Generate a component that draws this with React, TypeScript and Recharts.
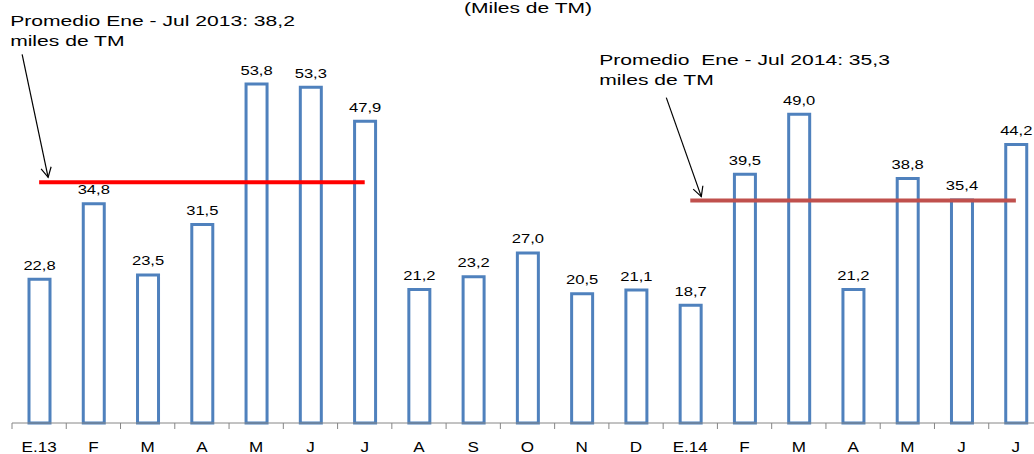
import { Bar, BarChart, LabelList, ReferenceLine, XAxis, YAxis } from "recharts";

const MONTHS = ["E.13", "F", "M", "A", "M", "J", "J", "A", "S", "O", "N", "D", "E.14", "F", "M", "A", "M", "J", "J"];
const VOLUMES = [22.8, 34.8, 23.5, 31.5, 53.8, 53.3, 47.9, 21.2, 23.2, 27.0, 20.5, 21.1, 18.7, 39.5, 49.0, 21.2, 38.8, 35.4, 44.2];
const AVG_2013 = 38.2;
const AVG_2014 = 35.3;
const AVG_2013_TEXT = ["Promedio Ene - Jul 2013: 38,2", "miles de TM"];
const AVG_2014_TEXT = ["Promedio  Ene - Jul 2014: 35,3", "miles de TM"];
const TITLE = "(Miles de TM)";

const CHART_W = 1043;
const CHART_H = 454;
const MARGIN = { top: 45, right: 0, left: 12, bottom: 0 };
const BAND = (CHART_W - MARGIN.left - MARGIN.right) / MONTHS.length;
const FONT = "'Liberation Sans', Arial, sans-serif";
const BAR_BLUE = "#4F81BD";

const rows = MONTHS.map((m, i) => ({ id: `${m}-${i}`, month: m, value: VOLUMES[i] }));
const ids = rows.map((r) => r.id);

const fmt = (v: number) => v.toFixed(1).replace(".", ",");

// text stretched horizontally, the source image was widened
function SText({ x, y, size, sx, anchor = "start", children }: any) {
  return (
    <text
      transform={`translate(${x} ${y}) scale(${sx} 1)`}
      textAnchor={anchor}
      fontSize={size}
      fontFamily={FONT}
      fill="#000"
      style={{ whiteSpace: "pre" }}
    >
      {children}
    </text>
  );
}

function Arrow({ x1, y1, x2, y2 }: { x1: number; y1: number; x2: number; y2: number }) {
  const ang = Math.atan2(y2 - y1, x2 - x1);
  const len = 11;
  const spread = Math.PI / 6.5;
  const a1 = ang + Math.PI - spread;
  const a2 = ang + Math.PI + spread;
  const head = `${x2 + len * Math.cos(a1)},${y2 + len * Math.sin(a1)} ${x2},${y2} ${x2 + len * Math.cos(a2)},${y2 + len * Math.sin(a2)}`;
  return (
    <g stroke="#000" strokeWidth={1.2} fill="none">
      <line x1={x1} y1={y1} x2={x2} y2={y2} />
      <polyline points={head} />
    </g>
  );
}

function annotation(lines: string[], textDx: number, textDy: number, tail: [number, number], tip: [number, number]) {
  return (props: any) => {
    const vb = props.viewBox || {};
    const x = vb.x ?? 0;
    const y = vb.y ?? 0;
    return (
      <g>
        <SText x={x + textDx} y={y + textDy} size={15.5} sx={1.36}>{lines[0]}</SText>
        <SText x={x + textDx} y={y + textDy + 19.5} size={15.5} sx={1.36}>{lines[1]}</SText>
        <Arrow x1={x + tail[0]} y1={y + tail[1]} x2={x + tip[0]} y2={y + tip[1]} />
      </g>
    );
  };
}

function MonthTick(props: any) {
  const { x, y, payload } = props;
  const row = rows.find((r) => r.id === payload.value);
  const left = x - BAND / 2;
  return (
    <g>
      <line x1={left} x2={left} y1={y} y2={y + 6} stroke="#868686" />
      <SText x={x} y={y + 28.5} size={14} sx={1.22} anchor="middle">{row ? row.month : ""}</SText>
    </g>
  );
}

function ValueLabel(props: any) {
  const { x, y, width, value } = props;
  return (
    <SText x={x + width / 2} y={y - 9.5} size={12} sx={1.38} anchor="middle">{fmt(value)}</SText>
  );
}

export default function App() {
  return (
    <div style={{ position: "fixed", left: 0, top: 0, width: 1034, height: 454, overflow: "hidden", background: "#fff" }}>
      <div
        style={{
          position: "absolute",
          left: 528,
          top: 0,
          transform: "translateX(-50%) scaleX(1.5)",
          fontFamily: FONT,
          fontSize: 14,
          lineHeight: "16px",
          whiteSpace: "nowrap",
        }}
      >
        {TITLE}
      </div>
      <BarChart width={CHART_W} height={CHART_H} data={rows} margin={MARGIN} barSize={21}>
        <XAxis
          dataKey="id"
          height={31}
          tickSize={0}
          tickMargin={0}
          interval={0}
          axisLine={{ stroke: "#868686" }}
          tick={<MonthTick />}
        />
        <YAxis hide domain={[0, 60]} />
        <Bar dataKey="value" fill="#FFFFFF" stroke={BAR_BLUE} strokeWidth={3} isAnimationActive={false}>
          <LabelList dataKey="value" content={<ValueLabel />} />
        </Bar>
        <ReferenceLine
          segment={[{ x: ids[0], y: AVG_2013 }, { x: ids[6], y: AVG_2013 }]}
          stroke="#FF0000"
          strokeWidth={4}
          label={annotation(AVG_2013_TEXT, -29, -156, [-17, -128], [9, -5])}
        />
        <ReferenceLine
          segment={[{ x: ids[12], y: AVG_2014 }, { x: ids[18], y: AVG_2014 }]}
          stroke="#C0504D"
          strokeWidth={4}
          label={annotation(AVG_2014_TEXT, -91, -135.6, [-24, -103], [11, -4])}
        />
      </BarChart>
    </div>
  );
}
